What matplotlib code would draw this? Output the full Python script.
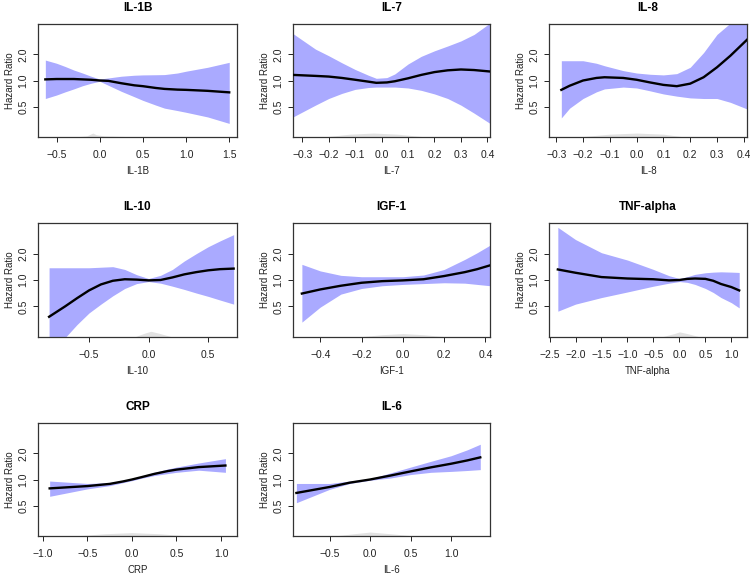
import numpy as np
import matplotlib
matplotlib.use("Agg")
import matplotlib.pyplot as plt
from matplotlib.ticker import FixedLocator, NullLocator
import matplotlib.transforms as mtrans

plt.rcParams['font.family'] = ['Liberation Sans', 'DejaVu Sans']

names = ["IL-1B", "IL-7", "IL-8", "IL-10", "IGF-1", "TNF-alpha", "CRP", "IL-6"]

# x grid, fitted HR, upper CI, lower CI for each marker
il1b_x = [-0.63, -0.5, -0.4, -0.3, -0.2, -0.1, 0.0, 0.1, 0.25, 0.4, 0.5, 0.65, 0.75, 0.9, 1.0, 1.25, 1.5]
il1b_hr = [1.03, 1.04, 1.04, 1.04, 1.03, 1.02, 1.0, 0.99, 0.93, 0.88, 0.86, 0.82, 0.80, 0.785, 0.78, 0.76, 0.73]
il1b_up = [1.72, 1.58, 1.45, 1.32, 1.22, 1.12, 1.04, 1.07, 1.12, 1.15, 1.16, 1.165, 1.17, 1.22, 1.28, 1.42, 1.62]
il1b_lo = [0.62, 0.68, 0.74, 0.80, 0.87, 0.93, 0.98, 0.88, 0.75, 0.65, 0.59, 0.52, 0.48, 0.45, 0.43, 0.38, 0.32]

il7_x = [-0.335, -0.25, -0.2, -0.15, -0.1, -0.05, -0.02, 0.02, 0.05, 0.1, 0.15, 0.2, 0.25, 0.3, 0.35, 0.41]
il7_hr = [1.16, 1.13, 1.11, 1.07, 1.02, 0.97, 0.94, 0.95, 0.98, 1.06, 1.16, 1.25, 1.31, 1.34, 1.32, 1.27]
il7_up = [3.47, 2.3, 1.93, 1.60, 1.34, 1.15, 1.06, 1.08, 1.19, 1.55, 1.90, 2.2, 2.5, 2.86, 3.4, 4.6]
il7_lo = [0.38, 0.52, 0.62, 0.71, 0.79, 0.83, 0.84, 0.84, 0.84, 0.82, 0.77, 0.70, 0.62, 0.52, 0.42, 0.32]

il8_x = [-0.281, -0.25, -0.2, -0.15, -0.12, -0.05, 0.0, 0.05, 0.1, 0.15, 0.2, 0.25, 0.3, 0.35, 0.412]
il8_hr = [0.78, 0.87, 1.0, 1.07, 1.09, 1.07, 1.02, 0.95, 0.89, 0.86, 0.92, 1.09, 1.42, 1.93, 2.95]
il8_up = [1.69, 1.69, 1.69, 1.58, 1.48, 1.30, 1.22, 1.18, 1.16, 1.20, 1.42, 2.1, 3.4, 4.6, 4.6]
il8_lo = [0.37, 0.48, 0.62, 0.74, 0.80, 0.84, 0.82, 0.76, 0.70, 0.66, 0.63, 0.62, 0.62, 0.56, 0.47]

il10_x = [-0.835, -0.7, -0.6, -0.5, -0.4, -0.3, -0.2, -0.1, 0.0, 0.1, 0.2, 0.3, 0.4, 0.5, 0.6, 0.714]
il10_hr = [0.38, 0.50, 0.62, 0.76, 0.89, 0.98, 1.02, 1.01, 0.99, 1.0, 1.07, 1.16, 1.23, 1.29, 1.33, 1.35]
il10_up = [1.38, 1.38, 1.38, 1.38, 1.40, 1.42, 1.32, 1.15, 1.04, 1.13, 1.32, 1.65, 2.0, 2.4, 2.8, 3.3]
il10_lo = [0.10, 0.22, 0.31, 0.42, 0.53, 0.66, 0.80, 0.91, 0.96, 0.92, 0.85, 0.78, 0.71, 0.65, 0.59, 0.53]

igf_x = [-0.489, -0.4, -0.3, -0.2, -0.1, 0.0, 0.1, 0.2, 0.3, 0.36, 0.422]
igf_hr = [0.70, 0.78, 0.86, 0.93, 0.97, 0.99, 1.02, 1.11, 1.23, 1.33, 1.47]
igf_up = [1.51, 1.27, 1.13, 1.09, 1.09, 1.09, 1.14, 1.32, 1.72, 2.05, 2.5]
igf_lo = [0.33, 0.49, 0.69, 0.80, 0.86, 0.89, 0.91, 0.93, 0.92, 0.89, 0.86]

tnf_x = [-2.34, -2.0, -1.5, -1.0, -0.5, -0.2, 0.0, 0.15, 0.3, 0.5, 0.65, 0.8, 1.0, 1.15]
tnf_hr = [1.32, 1.21, 1.08, 1.04, 1.02, 0.99, 1.0, 1.03, 1.04, 1.03, 0.98, 0.90, 0.83, 0.76]
tnf_up = [4.0, 2.9, 2.05, 1.69, 1.32, 1.12, 1.04, 1.09, 1.16, 1.21, 1.23, 1.24, 1.23, 1.22]
tnf_lo = [0.44, 0.53, 0.63, 0.73, 0.85, 0.92, 0.96, 0.94, 0.89, 0.80, 0.72, 0.63, 0.55, 0.48]

crp_x = [-0.925, -0.5, -0.25, -0.1, 0.0, 0.1, 0.25, 0.4, 0.5, 0.75, 1.05]
crp_hr = [0.79, 0.84, 0.89, 0.95, 1.0, 1.06, 1.16, 1.25, 1.30, 1.39, 1.45]
crp_up = [0.96, 0.90, 0.92, 0.98, 1.02, 1.09, 1.21, 1.32, 1.39, 1.55, 1.74]
crp_lo = [0.64, 0.78, 0.85, 0.92, 0.97, 1.03, 1.11, 1.17, 1.21, 1.28, 1.21]

il6_x = [-0.91, -0.5, -0.25, 0.0, 0.25, 0.5, 0.75, 1.0, 1.2, 1.36]
il6_hr = [0.70, 0.82, 0.92, 1.0, 1.11, 1.24, 1.38, 1.52, 1.66, 1.80]
il6_up = [0.90, 0.90, 0.96, 1.02, 1.19, 1.39, 1.62, 1.88, 2.2, 2.55]
il6_lo = [0.54, 0.77, 0.90, 0.98, 1.04, 1.14, 1.21, 1.24, 1.27, 1.30]

# x-axis limits and ticks
xlims = [(-0.715, 1.59), (-0.335, 0.41), (-0.327, 0.412), (-0.928, 0.742),
         (-0.532, 0.422), (-2.51, 1.30), (-1.056, 1.18), (-0.952, 1.48)]
xticks = [[-0.5, 0.0, 0.5, 1.0, 1.5],
          [-0.3, -0.2, -0.1, 0.0, 0.1, 0.2, 0.3, 0.4],
          [-0.3, -0.2, -0.1, 0.0, 0.1, 0.2, 0.3, 0.4],
          [-0.5, 0.0, 0.5],
          [-0.4, -0.2, 0.0, 0.2, 0.4],
          [-2.5, -2.0, -1.5, -1.0, -0.5, 0.0, 0.5, 1.0],
          [-1.0, -0.5, 0.0, 0.5, 1.0],
          [-0.5, 0.0, 0.5, 1.0]]

# density of the marker (relative height, axes fraction)
dens_x = [[-0.3, -0.15, -0.08, -0.04, 0.05, 0.3, 0.6],
          [-0.22, -0.12, -0.03, 0.06, 0.17],
          [-0.22, -0.1, 0.0, 0.1, 0.18],
          [-0.12, -0.03, 0.02, 0.08, 0.2],
          [-0.22, -0.1, 0.0, 0.1, 0.22],
          [-0.35, -0.1, 0.0, 0.15, 0.4],
          [-0.65, -0.3, 0.0, 0.3, 0.65],
          [-0.45, -0.2, 0.0, 0.25, 0.55]]
dens_h = [[0.0, 0.01, 0.035, 0.02, 0.01, 0.004, 0.0],
          [0.0, 0.025, 0.035, 0.025, 0.0],
          [0.0, 0.025, 0.035, 0.025, 0.0],
          [0.0, 0.035, 0.05, 0.035, 0.0],
          [0.0, 0.02, 0.03, 0.02, 0.0],
          [0.0, 0.03, 0.045, 0.03, 0.0],
          [0.0, 0.02, 0.03, 0.02, 0.0],
          [0.0, 0.02, 0.035, 0.02, 0.0]]

series = [(il1b_x, il1b_hr, il1b_up, il1b_lo),
          (il7_x, il7_hr, il7_up, il7_lo),
          (il8_x, il8_hr, il8_up, il8_lo),
          (il10_x, il10_hr, il10_up, il10_lo),
          (igf_x, igf_hr, igf_up, igf_lo),
          (tnf_x, tnf_hr, tnf_up, tnf_lo),
          (crp_x, crp_hr, crp_up, crp_lo),
          (il6_x, il6_hr, il6_up, il6_lo)]

ytick_vals = [0.5, 1.0, 2.0]
ytick_labels = ["0.5", "1.0", "2.0"]
ylim = (np.exp(-1.5), np.exp(1.5))

W, H = 750, 574
fig = plt.figure(figsize=(7.5, 5.74), dpi=100)

rows = [(24, 137), (223, 337), (423, 536)]
cols = [(38, 237), (293, 490), (549, 747)]

for i, name in enumerate(names):
    r, c = divmod(i, 3)
    top, bot = rows[r]
    lft, rgt = cols[c]
    ax = fig.add_axes([lft / W, 1 - bot / H, (rgt - lft) / W, (bot - top) / H])
    xs, hr, up, lo = series[i]
    ax.set_yscale('log')
    ax.fill_between(xs, lo, up, color='#aaaaff', lw=0, zorder=1)
    ax.plot(xs, hr, color='black', lw=1.7, zorder=3, solid_joinstyle='round')
    trans = mtrans.blended_transform_factory(ax.transData, ax.transAxes)
    ax.fill_between(dens_x[i], 0, dens_h[i], color='#e2e2e2', lw=0,
                    transform=trans, zorder=2)
    ax.set_xlim(*xlims[i])
    ax.set_ylim(*ylim)
    ax.yaxis.set_major_locator(FixedLocator(ytick_vals))
    ax.yaxis.set_minor_locator(NullLocator())
    ax.set_yticklabels(ytick_labels, rotation=90, va='center')
    ax.set_xticks(xticks[i])
    ax.set_xticklabels([f"{v:.1f}".replace("-", "\u2212") for v in xticks[i]])
    ax.tick_params(axis='both', labelsize=7.5, length=3.5, width=0.7,
                   colors='#222222', labelcolor='#222222')
    ax.tick_params(axis='x', pad=6)
    ax.tick_params(axis='y', pad=3.5)
    for sp in ax.spines.values():
        sp.set_linewidth(0.9)
        sp.set_color('#333333')
    ax.set_title(name, fontsize=8.5, fontweight='bold', pad=9.5)
    ax.set_xlabel(name, fontsize=7, labelpad=4, color='#222222')
    ax.set_ylabel("Hazard Ratio", fontsize=7, labelpad=2, color='#222222')

fig.savefig("out.png", dpi=100, facecolor='white')
